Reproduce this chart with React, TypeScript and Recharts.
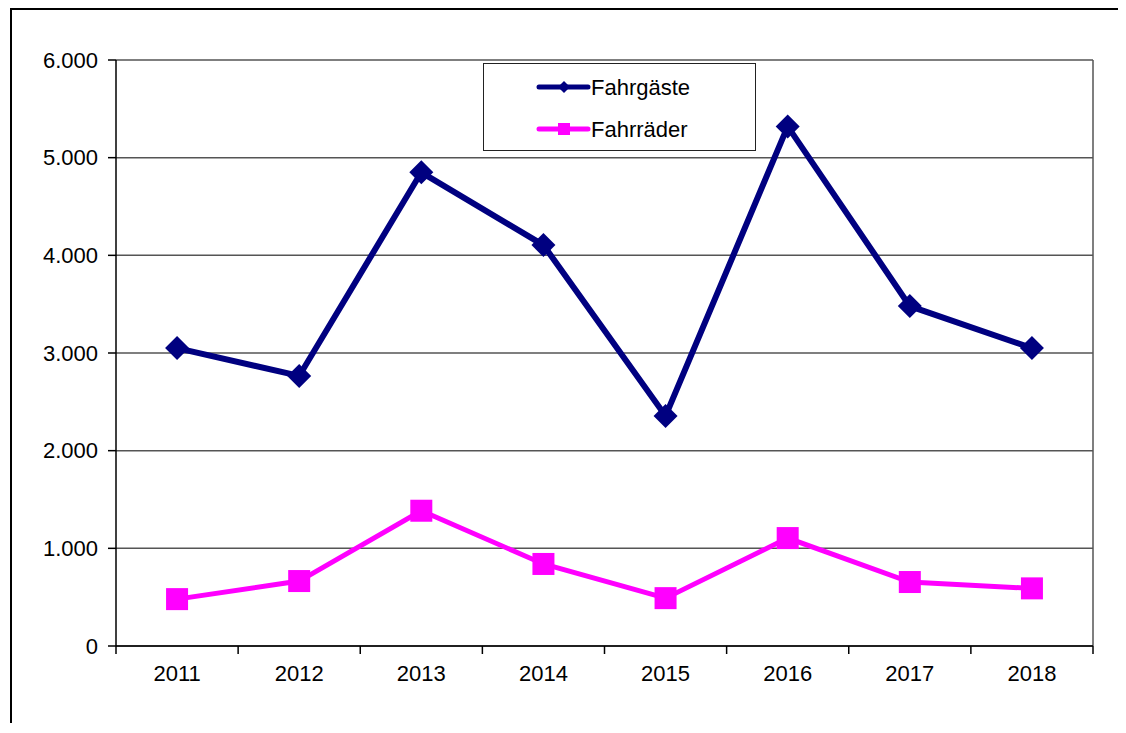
import React from 'react';
import { LineChart, Line, XAxis, YAxis, CartesianGrid } from 'recharts';

const years = [2011, 2012, 2013, 2014, 2015, 2016, 2017, 2018];
const fahrgaeste = [3050, 2765, 4850, 4105, 2355, 5320, 3480, 3050];
const fahrraeder = [480, 665, 1385, 840, 490, 1105, 655, 590];
const yTicks = [0, 1000, 2000, 3000, 4000, 5000, 6000];
const xBoundaries = [2010.5, 2011.5, 2012.5, 2013.5, 2014.5, 2015.5, 2016.5, 2017.5, 2018.5];

const chartData = years.map((year, i) => ({
  year,
  fahrgaeste: fahrgaeste[i],
  fahrraeder: fahrraeder[i],
}));

const CHART_W = 1100;
const CHART_H = 713;
const MARGIN = { top: 50, right: 19, bottom: 0, left: 0 };
const Y_AXIS_W = 104;
const X_AXIS_H = 77;
const PLOT_W = CHART_W - MARGIN.left - MARGIN.right - Y_AXIS_W;
const BAND = PLOT_W / years.length;

const FONT = '"Liberation Sans", Arial, sans-serif';
const FONT_SIZE = 22;

const formatDe = (v: number) => {
  if (v === 0) return '0';
  return String(v).replace(/\B(?=(\d{3})+(?!\d))/g, '.');
};

const YearTick = (props: any) => {
  const { x, y, payload } = props;
  if (payload.value >= 2018.5) return <g />;
  return (
    <text x={x + BAND / 2} y={y + 17} textAnchor="middle" dy="0.355em" fontSize={FONT_SIZE} fill="#000" fontFamily={FONT}>
      {payload.value + 0.5}
    </text>
  );
};

const Diamond = (props: any) => {
  const { cx, cy, index } = props;
  const r = 12;
  return (
    <path
      key={`d-${index}`}
      d={`M${cx},${cy - r} L${cx + r},${cy} L${cx},${cy + r} L${cx - r},${cy} Z`}
      fill="#000080"
    />
  );
};

const Square = (props: any) => {
  const { cx, cy, index } = props;
  const r = 11;
  return <rect key={`s-${index}`} x={cx - r} y={cy - r} width={2 * r} height={2 * r} fill="#FF00FF" />;
};

const LegendBox = () => (
  <div
    style={{
      position: 'absolute',
      left: 471,
      top: 53,
      width: 271,
      height: 86,
      border: '1px solid #222',
      background: '#fff',
    }}
  >
    <svg width={271} height={86} style={{ display: 'block' }}>
      <line x1={55} y1={23} x2={104} y2={23} stroke="#000080" strokeWidth={5} strokeLinecap="round" />
      <path d="M80,17 L86,23 L80,29 L74,23 Z" fill="#000080" />
      <line x1={55} y1={65} x2={104} y2={65} stroke="#FF00FF" strokeWidth={5} strokeLinecap="round" />
      <rect x={74} y={59} width={12} height={12} fill="#FF00FF" />
      <text x={107} y={23} dy="0.355em" fontSize={FONT_SIZE} fontFamily={FONT} fill="#000">Fahrgäste</text>
      <text x={107} y={65} dy="0.355em" fontSize={FONT_SIZE} fontFamily={FONT} fill="#000">Fahrräder</text>
    </svg>
  </div>
);

export default function App() {
  return (
    <div
      style={{
        position: 'relative',
        marginLeft: 2,
        width: 1112,
        height: CHART_H,
        borderLeft: '2px solid #000',
        borderTop: '2px solid #000',
        background: '#fff',
      }}
    >
      <LineChart width={CHART_W} height={CHART_H} data={chartData} margin={MARGIN}>
        <CartesianGrid
          stroke="#555"
          strokeWidth={1.5}
          horizontal={true}
          vertical={true}
          verticalCoordinatesGenerator={({ offset }: any) => [offset.left + offset.width]}
        />
        <XAxis
          dataKey="year"
          type="number"
          domain={[2010.5, 2018.5]}
          ticks={xBoundaries}
          interval={0}
          height={X_AXIS_H}
          tickSize={8}
          axisLine={{ stroke: '#000', strokeWidth: 1.5 }}
          tickLine={{ stroke: '#000', strokeWidth: 1.5 }}
          tick={<YearTick />}
        />
        <YAxis
          domain={[0, 6000]}
          ticks={yTicks}
          interval={0}
          width={Y_AXIS_W}
          tickSize={8}
          tickMargin={10}
          tickFormatter={formatDe}
          axisLine={{ stroke: '#000', strokeWidth: 1.5 }}
          tickLine={{ stroke: '#000', strokeWidth: 1.5 }}
          tick={{ fill: '#000', fontSize: FONT_SIZE, fontFamily: FONT }}
        />
        <Line
          dataKey="fahrgaeste"
          name="Fahrgäste"
          stroke="#000080"
          strokeWidth={6}
          dot={<Diamond />}
          activeDot={false}
          isAnimationActive={false}
        />
        <Line
          dataKey="fahrraeder"
          name="Fahrräder"
          stroke="#FF00FF"
          strokeWidth={5}
          dot={<Square />}
          activeDot={false}
          isAnimationActive={false}
        />
      </LineChart>
      <LegendBox />
    </div>
  );
}
